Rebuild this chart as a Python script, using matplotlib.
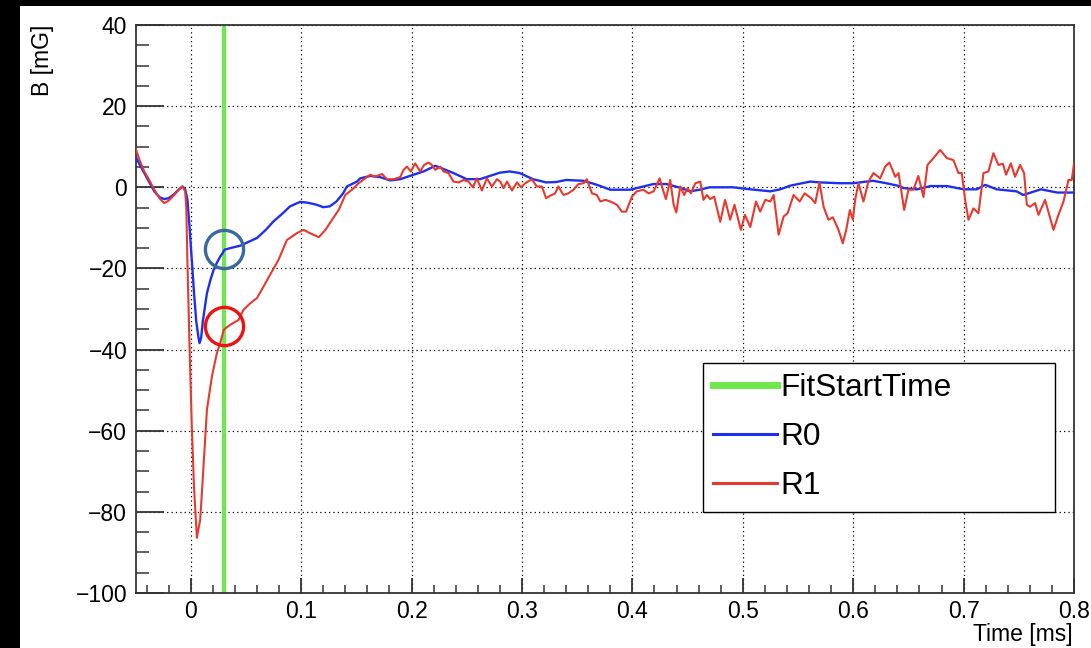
import matplotlib
matplotlib.use("Agg")
import matplotlib.pyplot as plt
from matplotlib.patches import Rectangle
from matplotlib.ticker import MultipleLocator, FuncFormatter
from matplotlib.lines import Line2D

plt.rcParams['font.family'] = ['Liberation Sans', 'DejaVu Sans']

# ---- data -------------------------------------------------------------
t_r0 = [-0.050, -0.046, -0.042, -0.037, -0.033, -0.028, -0.024, -0.020, -0.015,
        -0.011, -0.0074, -0.005, -0.003, -0.001, 0.001, 0.003, 0.005, 0.007,
        0.008, 0.0095, 0.011, 0.0147, 0.0177, 0.0207, 0.0237, 0.0267, 0.029,
        0.0305, 0.0357, 0.0448, 0.052, 0.060, 0.068, 0.075, 0.083, 0.090,
        0.099, 0.106, 0.114, 0.120, 0.126, 0.132, 0.138, 0.1415, 0.1505,
        0.1535, 0.1626, 0.1716, 0.1807, 0.1898, 0.2018, 0.2109, 0.2215, 0.229,
        0.238, 0.250, 0.262, 0.271, 0.280, 0.289, 0.298, 0.310, 0.322, 0.331,
        0.340, 0.356, 0.368, 0.380, 0.398, 0.410, 0.419, 0.431, 0.443, 0.452,
        0.461, 0.470, 0.491, 0.507, 0.525, 0.534, 0.543, 0.561, 0.570, 0.588,
        0.600, 0.609, 0.618, 0.630, 0.642, 0.6456, 0.6578, 0.670, 0.685,
        0.700, 0.712, 0.7196, 0.730, 0.748, 0.754, 0.770, 0.785, 0.800]
b_r0 = [7.6, 5.5, 3.5, 1.0, -1.0, -2.5, -2.9, -2.7, -1.7,
        -0.6, 0.2, -0.5, -3.0, -10.0, -18.0, -26.0, -33.0, -37.0,
        -38.4, -37.0, -33.0, -26.1, -23.0, -20.4, -18.6, -17.1, -16.2,
        -15.4, -15.0, -14.4, -13.5, -12.5, -10.5, -8.4, -6.5, -4.7,
        -3.6, -3.8, -4.3, -4.9, -4.7, -3.5, -1.5, 0.2, 1.4,
        2.2, 2.8, 2.5, 1.7, 2.0, 3.1, 3.9, 5.3, 4.5,
        3.5, 2.0, 2.0, 2.8, 3.6, 3.9, 3.5, 2.0, 1.2, 1.3,
        1.8, 1.6, 0.6, -0.6, -0.6, 0.2, 0.8, 0.8, -0.1, -1.0,
        -0.6, 0.0, 0.0, -0.5, -1.0, -0.5, 0.4, 1.4, 1.2, 1.0,
        1.0, 1.3, 1.6, 1.0, 0.3, -0.2, -0.5, 0.3, 0.3,
        -0.5, -0.5, 0.6, -0.5, -1.0, -1.9, -0.5, -1.3, -1.3]

t_r1 = [-0.050, -0.046, -0.042, -0.037, -0.033, -0.028, -0.024, -0.020, -0.015,
        -0.011, -0.0074, -0.005, -0.004, -0.003, -0.001, 0.001, 0.003, 0.0056,
        0.0086, 0.0116, 0.0147, 0.0192, 0.0237, 0.0267, 0.030, 0.0357, 0.0433,
        0.0478, 0.0539, 0.0600, 0.0659, 0.072, 0.0795, 0.0871, 0.0962, 0.1022,
        0.108, 0.116, 0.122, 0.128, 0.134, 0.140, 0.146, 0.152, 0.158, 0.1626,
        0.1671, 0.1732, 0.1777, 0.1837, 0.1898, 0.1928, 0.1958, 0.1994, 0.2033,
        0.2078, 0.2114, 0.2154, 0.2184, 0.2215, 0.226, 0.229, 0.2335, 0.238,
        0.2426, 0.2471, 0.2516, 0.2556, 0.2592, 0.2637, 0.2683, 0.2728, 0.2774,
        0.2804, 0.2833, 0.2865, 0.291, 0.2955, 0.2991, 0.303, 0.309, 0.3134,
        0.318, 0.3219, 0.3255, 0.330, 0.333, 0.3376, 0.342, 0.3467, 0.3512,
        0.3558, 0.3588, 0.3634, 0.3679, 0.371, 0.3755, 0.380, 0.386, 0.3905,
        0.3944, 0.3996, 0.404, 0.410, 0.4147, 0.4193, 0.4247, 0.4277, 0.4304,
        0.4343, 0.4374, 0.4398, 0.4434, 0.447, 0.450, 0.453, 0.457, 0.4615,
        0.4644, 0.4675, 0.4705, 0.4741, 0.4796, 0.484, 0.4886, 0.4925, 0.4983,
        0.502, 0.5068, 0.512, 0.5158, 0.5204, 0.525, 0.528, 0.5325, 0.537,
        0.5406, 0.546, 0.5516, 0.556, 0.562, 0.5656, 0.5695, 0.5732, 0.5776,
        0.5816, 0.5867, 0.5906, 0.5937, 0.597, 0.5997, 0.6018, 0.6048, 0.6093,
        0.6138, 0.6184, 0.6244, 0.629, 0.6328, 0.6381, 0.6411, 0.6462, 0.650,
        0.6546, 0.659, 0.6637, 0.6673, 0.6727, 0.6788, 0.6848, 0.6908, 0.6953,
        0.6984, 0.7014, 0.7044, 0.709, 0.7135, 0.718, 0.7225, 0.727, 0.7316,
        0.7356, 0.7385, 0.7428, 0.7466, 0.7512, 0.7548, 0.7573, 0.7603, 0.7648,
        0.7678, 0.7738, 0.7784, 0.7814, 0.7859, 0.7905, 0.795, 0.798, 0.800]
b_r1 = [9.6, 6.5, 3.9, 1.5, -0.6, -2.8, -3.9, -3.3, -1.9,
        -0.6, 0.2, -1.0, -5.0, -18.0, -40.0, -59.0, -74.0, -86.4,
        -81.9, -68.8, -54.8, -46.6, -40.9, -38.4, -35.1, -33.9, -32.7,
        -30.2, -28.6, -27.3, -24.5, -21.5, -17.9, -13.0, -11.3, -10.5,
        -11.3, -12.3, -10.5, -8.0, -5.6, -1.9, -0.6, 1.0, 2.2, 3.1,
        2.6, 3.3, 2.0, 2.0, 2.5, 4.3, 5.1, 3.9, 5.9,
        3.9, 5.5, 6.1, 5.5, 4.3, 5.1, 3.9, 3.5, 1.4,
        1.2, 1.8, 1.4, 0.0, 2.2, -0.8, 2.2, 0.2, 2.0,
        1.4, -0.2, 1.4, -0.8, 1.2, 0.0, 1.0, 2.0, 0.2,
        0.2, -2.7, -2.1, -1.5, 0.2, -1.9, -1.5, -0.6, 0.8,
        1.0, 2.0, -1.5, -1.9, -3.5, -3.1, -3.5, -4.3, -6.0,
        -6.0, -2.3, -1.0, -0.6, -1.5, -1.0, 2.2, -0.6, -2.9,
        1.8, -4.3, -6.2, 0.2, -1.9, -0.2, -1.5, 1.0, 1.4,
        -3.1, -1.9, -2.9, -2.3, -8.5, -3.1, -8.0, -4.3, -10.5,
        -6.8, -9.8, -3.5, -6.0, -3.1, -3.5, -1.9, -11.7, -7.2,
        -6.4, -1.9, -3.5, -1.5, -2.7, -3.9, 1.2, -4.8, -8.0,
        -7.4, -10.5, -13.8, -10.5, -5.6, -8.0, -3.1, 1.0, -3.5,
        1.4, 3.5, 2.2, 5.1, 6.1, 2.6, 3.5, -5.6, -0.6,
        -0.6, 2.8, -2.4, 5.5, 7.2, 9.2, 7.2, 6.7, 3.5,
        3.5, -3.1, -8.0, -5.2, -6.4, 3.5, 3.9, 8.4, 5.5,
        5.8, 3.1, 5.9, 2.6, 5.5, 3.5, -4.3, -4.8, -3.9,
        -6.8, -3.1, -7.6, -10.5, -6.8, -3.5, 1.8, 1.8, 5.9]

fit_start_time = 0.03
fit_start_r0 = -15.1
fit_start_r1 = -34.1

series_labels = ["FitStartTime", "R0", "R1"]
x_title = "Time [ms]"
y_title = "B [mG]"

# ---- colours ----------------------------------------------------------
c_fit = "#6ee84a"
c_r0 = "#1f2ff0"
c_r1 = "#e8392e"
c_mark_r0 = "#3a6a9c"
c_mark_r1 = "#ee1111"

# ---- figure -----------------------------------------------------------
W, H = 1091, 648
fig = plt.figure(figsize=(W / 100, H / 100), dpi=100, facecolor="white")

# dark border strips on the canvas edges
fig.patches.append(Rectangle((0, 1 - 6 / H), 1, 6 / H, transform=fig.transFigure,
                             facecolor="black", edgecolor="none", zorder=0))
fig.patches.append(Rectangle((0, 0), 20 / W, 1, transform=fig.transFigure,
                             facecolor="black", edgecolor="none", zorder=0))

ax = fig.add_axes([135.5 / W, 1 - 593 / H, (1074 - 135.5) / W, (593 - 25) / H])
ax.set_xlim(-0.05, 0.8)
ax.set_ylim(-100, 40)

ax.axvline(fit_start_time, color=c_fit, lw=3.0, zorder=2)
ax.plot(t_r0, b_r0, color=c_r0, lw=1.7, zorder=3)
ax.plot(t_r1, b_r1, color=c_r1, lw=1.5, zorder=3)

ax.plot([fit_start_time], [fit_start_r0], marker="o", ms=27.5, mfc="none",
        mec=c_mark_r0, mew=2.4, ls="none", zorder=4)
ax.plot([fit_start_time], [fit_start_r1], marker="o", ms=27.5, mfc="none",
        mec=c_mark_r1, mew=2.4, ls="none", zorder=4)

# axes styling
for s in ax.spines.values():
    s.set_color("#333333")
    s.set_linewidth(1.3)

ax.xaxis.set_major_locator(MultipleLocator(0.1))
ax.xaxis.set_minor_locator(MultipleLocator(0.02))
ax.yaxis.set_major_locator(MultipleLocator(20))
ax.yaxis.set_minor_locator(MultipleLocator(5))


def fmt_x(v, pos):
    s = "%.1f" % v
    return "0" if abs(v) < 1e-9 else s


def fmt_y(v, pos):
    return ("%d" % round(v)).replace("-", "\u2212")


ax.xaxis.set_major_formatter(FuncFormatter(fmt_x))
ax.yaxis.set_major_formatter(FuncFormatter(fmt_y))

ax.tick_params(axis="both", which="both", direction="in", top=False, right=False,
               colors="#333333", labelcolor="black", labelsize=16.5)
ax.tick_params(axis="y", which="major", length=20, width=1.3, pad=6)
ax.tick_params(axis="y", which="minor", length=9.5, width=1.1)
ax.tick_params(axis="x", which="major", length=11, width=1.3, pad=5)
ax.tick_params(axis="x", which="minor", length=6, width=1.1)

ax.grid(True, which="major", color="black", lw=0.9, ls=(0, (1, 2.5)))
ax.set_axisbelow(True)

# axis titles, ROOT-style: flush with the far ends of the axes
fig.text(1073 / W, 1 - 634 / H, x_title, fontsize=16.5, ha="right", va="center")
fig.text(43 / W, 1 - 25 / H, y_title, fontsize=16.5, ha="center", va="top",
         rotation=90)

# legend
handles = [Line2D([], [], color=c_fit, lw=5),
           Line2D([], [], color=c_r0, lw=2.2),
           Line2D([], [], color=c_r1, lw=2.2)]
leg = fig.legend(handles, series_labels, loc="upper left",
                 bbox_to_anchor=(703 / W, 1 - 512 / H, 352 / W, 149 / H),
                 mode="expand", fontsize=22.8,
                 frameon=True, fancybox=False, edgecolor="black",
                 framealpha=1, handlelength=2.0, handletextpad=0.1,
                 labelspacing=0.6, borderpad=0.33, borderaxespad=0)
leg.get_frame().set_linewidth(1.0)

fig.savefig("out.png", dpi=100, facecolor="white")
